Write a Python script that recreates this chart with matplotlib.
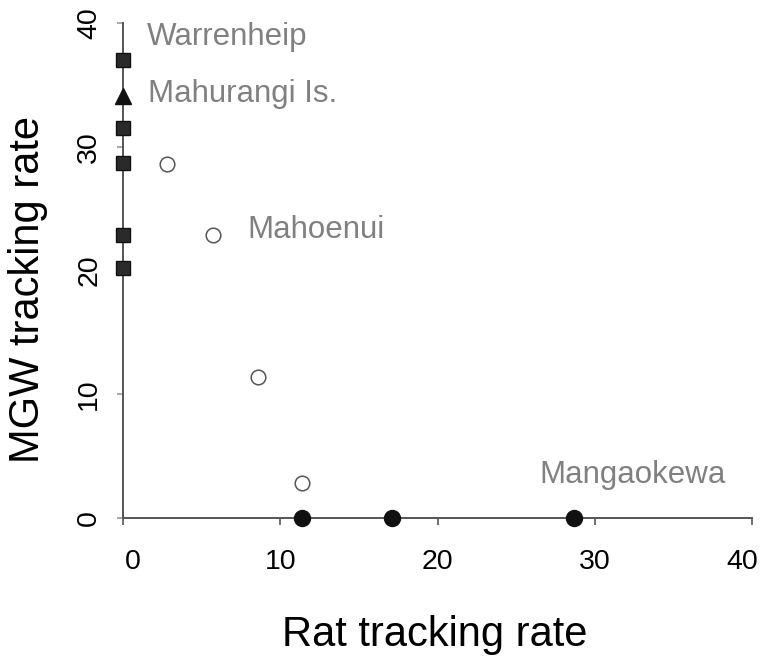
import matplotlib.pyplot as plt
from matplotlib.transforms import ScaledTranslation

plt.rcParams['font.family'] = ['Liberation Sans', 'DejaVu Sans']

# tracking rates (%) per site group
square_rat = [0, 0, 0, 0, 0]
square_mgw = [37.0, 31.5, 28.7, 22.9, 20.2]
triangle_rat = [0]
triangle_mgw = [34.1]
open_rat = [2.8, 5.7, 8.6, 11.4]
open_mgw = [28.6, 22.9, 11.4, 2.8]
filled_rat = [11.4, 17.1, 28.7]
filled_mgw = [0, 0, 0]

site_names = ['Warrenheip', 'Mahurangi Is.', 'Mahoenui', 'Mangaokewa']
site_pos = [(1.5, 38.2), (1.6, 33.6), (7.9, 22.6), (26.5, 2.8)]

ticks = [0, 10, 20, 30, 40]

fig = plt.figure(figsize=(7.63, 6.57), dpi=100)
ax = fig.add_axes([0.1612, 0.2116, 0.8244, 0.7534])

ax.plot(square_rat, square_mgw, 's', ms=10, color='#2a2a2a', mec='#111111', clip_on=False, zorder=3)
ax.plot(triangle_rat, triangle_mgw, '^', ms=12, color='#111111', clip_on=False, zorder=3)
ax.plot(open_rat, open_mgw, 'o', ms=10.5, mfc='white', mec='#555555', mew=1.1, clip_on=False, zorder=3)
ax.plot(filled_rat, filled_mgw, 'o', ms=11.5, color='#111111', clip_on=False, zorder=3)

for name, (x, y) in zip(site_names, site_pos):
    ax.text(x, y, name, fontsize=22.5, color='#808080', ha='left', va='baseline')

ax.set_xlim(0, 40)
ax.set_ylim(0, 40)
ax.set_xticks(ticks)
ax.set_yticks(ticks)

for side in ['top', 'right']:
    ax.spines[side].set_visible(False)
for side in ['left', 'bottom']:
    ax.spines[side].set_color('#555555')
    ax.spines[side].set_linewidth(1.4)

ax.tick_params(axis='x', direction='out', length=5, width=1.2, color='#555555',
               labelsize=20.5, pad=17)
ax.tick_params(axis='y', direction='out', length=4, width=1.2, color='#999999',
               labelsize=20.5, pad=11)
for lab in ax.get_yticklabels():
    lab.set_rotation(90)
    lab.set_va('center')

# nudge the end labels of the x axis inward
xlabs = ax.get_xticklabels()
xlabs[0].set_transform(xlabs[0].get_transform() + ScaledTranslation(10 / 100, 0, fig.dpi_scale_trans))
xlabs[-1].set_transform(xlabs[-1].get_transform() + ScaledTranslation(-10 / 100, 0, fig.dpi_scale_trans))

fig.text(0.570, 0.0335, 'Rat tracking rate', fontsize=30, ha='center', va='center')
fig.text(0.0367, 0.5586, 'MGW tracking rate', fontsize=30, ha='center', va='center',
         rotation=90)

fig.savefig('out.png', dpi=100)
